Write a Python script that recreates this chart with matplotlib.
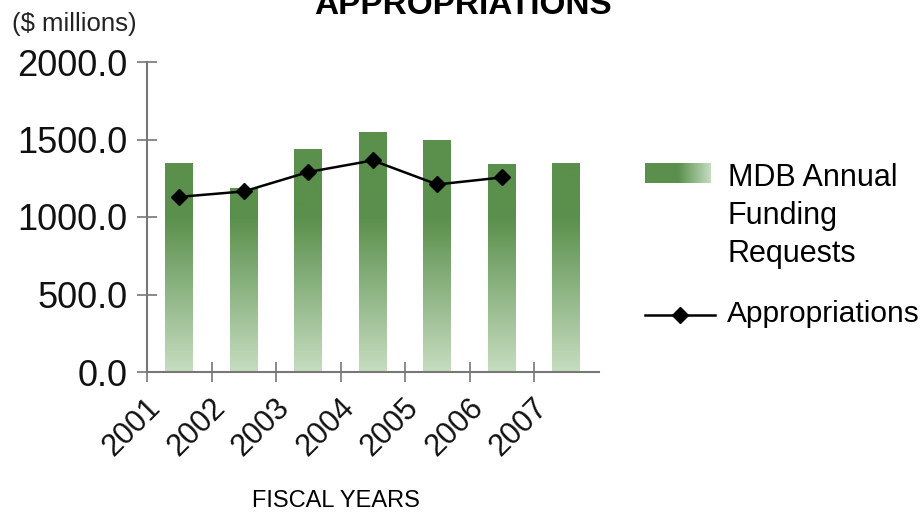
import numpy as np
import matplotlib.pyplot as plt
from matplotlib.colors import LinearSegmentedColormap
from matplotlib.lines import Line2D
from matplotlib.transforms import ScaledTranslation

plt.rcParams['font.family'] = ['Liberation Sans', 'DejaVu Sans']

years = ['2001', '2002', '2003', '2004', '2005', '2006', '2007']
requests = [1350, 1190, 1440, 1550, 1495, 1340, 1350]
appropriations = [1130, 1165, 1290, 1365, 1210, 1255]

dark_green = '#5a8f4c'
light_green = '#c6ddc0'
axis_gray = '#777777'
# colour by height: light at the base, full green above ~1000
fade = LinearSegmentedColormap.from_list(
    'fade', [(0.0, light_green), (0.5, dark_green), (1.0, dark_green)])

fig = plt.figure(figsize=(9.24, 5.15), dpi=100)
ax = fig.add_axes([147 / 924, 143 / 515, 451.5 / 924, 310 / 515])

x = np.arange(len(years))
bars = ax.bar(x, requests, width=0.43, color='none', edgecolor='none')
grad = np.linspace(0, 1, 256).reshape(-1, 1)
for bar in bars:
    x0, w = bar.get_x(), bar.get_width()
    im = ax.imshow(grad, cmap=fade, aspect='auto', origin='lower',
                   extent=[x0, x0 + w, 0, 2000], zorder=1)
    im.set_clip_path(bar)

ax.plot(x[:len(appropriations)], appropriations, color='black', lw=1.8,
        marker='D', ms=8, zorder=3)

ax.set_xlim(-0.5, 6.5)
ax.set_ylim(0, 2000)
ax.set_aspect('auto')

for side in ['top', 'right']:
    ax.spines[side].set_visible(False)
for side in ['left', 'bottom']:
    ax.spines[side].set_color(axis_gray)
    ax.spines[side].set_linewidth(1.5)

ax.set_yticks([0, 500, 1000, 1500, 2000])
ax.set_yticklabels(['%.1f' % v for v in [0, 500, 1000, 1500, 2000]])
ax.tick_params(axis='y', direction='inout', length=15, width=1.2,
               color=axis_gray, pad=6.5, labelsize=26, labelcolor='#111111')

ax.set_xticks(x - 0.5)
ax.set_xticklabels(years, rotation=45, ha='right')
ax.tick_params(axis='x', direction='inout', length=15, width=1.2,
               color=axis_gray, pad=7.5, labelsize=22, labelcolor='#111111')
shift = ScaledTranslation(20 / 100, 0, fig.dpi_scale_trans)
for lbl in ax.get_xticklabels():
    lbl.set_transform(lbl.get_transform() + shift)

fig.text(463 / 924, 1 - 14 / 515, 'APPROPRIATIONS', ha='center', va='baseline',
         fontsize=24, fontweight='bold')
fig.text(12 / 924, 1 - 31 / 515, '($ millions)', ha='left', va='baseline',
         fontsize=18.5, color='#222222')
fig.text(336 / 924, 1 - 507 / 515, 'FISCAL YEARS', ha='center', va='baseline',
         fontsize=17)

# legend
lax = fig.add_axes([645 / 924, 1 - 183 / 515, 66 / 924, 20 / 515])
lax.imshow(np.linspace(1, 0, 256).reshape(1, -1), cmap=fade, aspect='auto')
lax.axis('off')
for txt, base in [('MDB Annual', 185.7), ('Funding', 224), ('Requests', 261.7)]:
    fig.text(728 / 924, 1 - base / 515, txt, ha='left', va='baseline', fontsize=22)

ly = 1 - 315 / 515
fig.add_artist(Line2D([645 / 924, 680 / 924, 715 / 924], [ly, ly, ly],
                      transform=fig.transFigure, color='black', lw=1.8,
                      marker='D', ms=8, markevery=[1]))
fig.text(727 / 924, 1 - 321.7 / 515, 'Appropriations', ha='left', va='baseline',
         fontsize=21.5)

fig.savefig('out.png', dpi=100)
